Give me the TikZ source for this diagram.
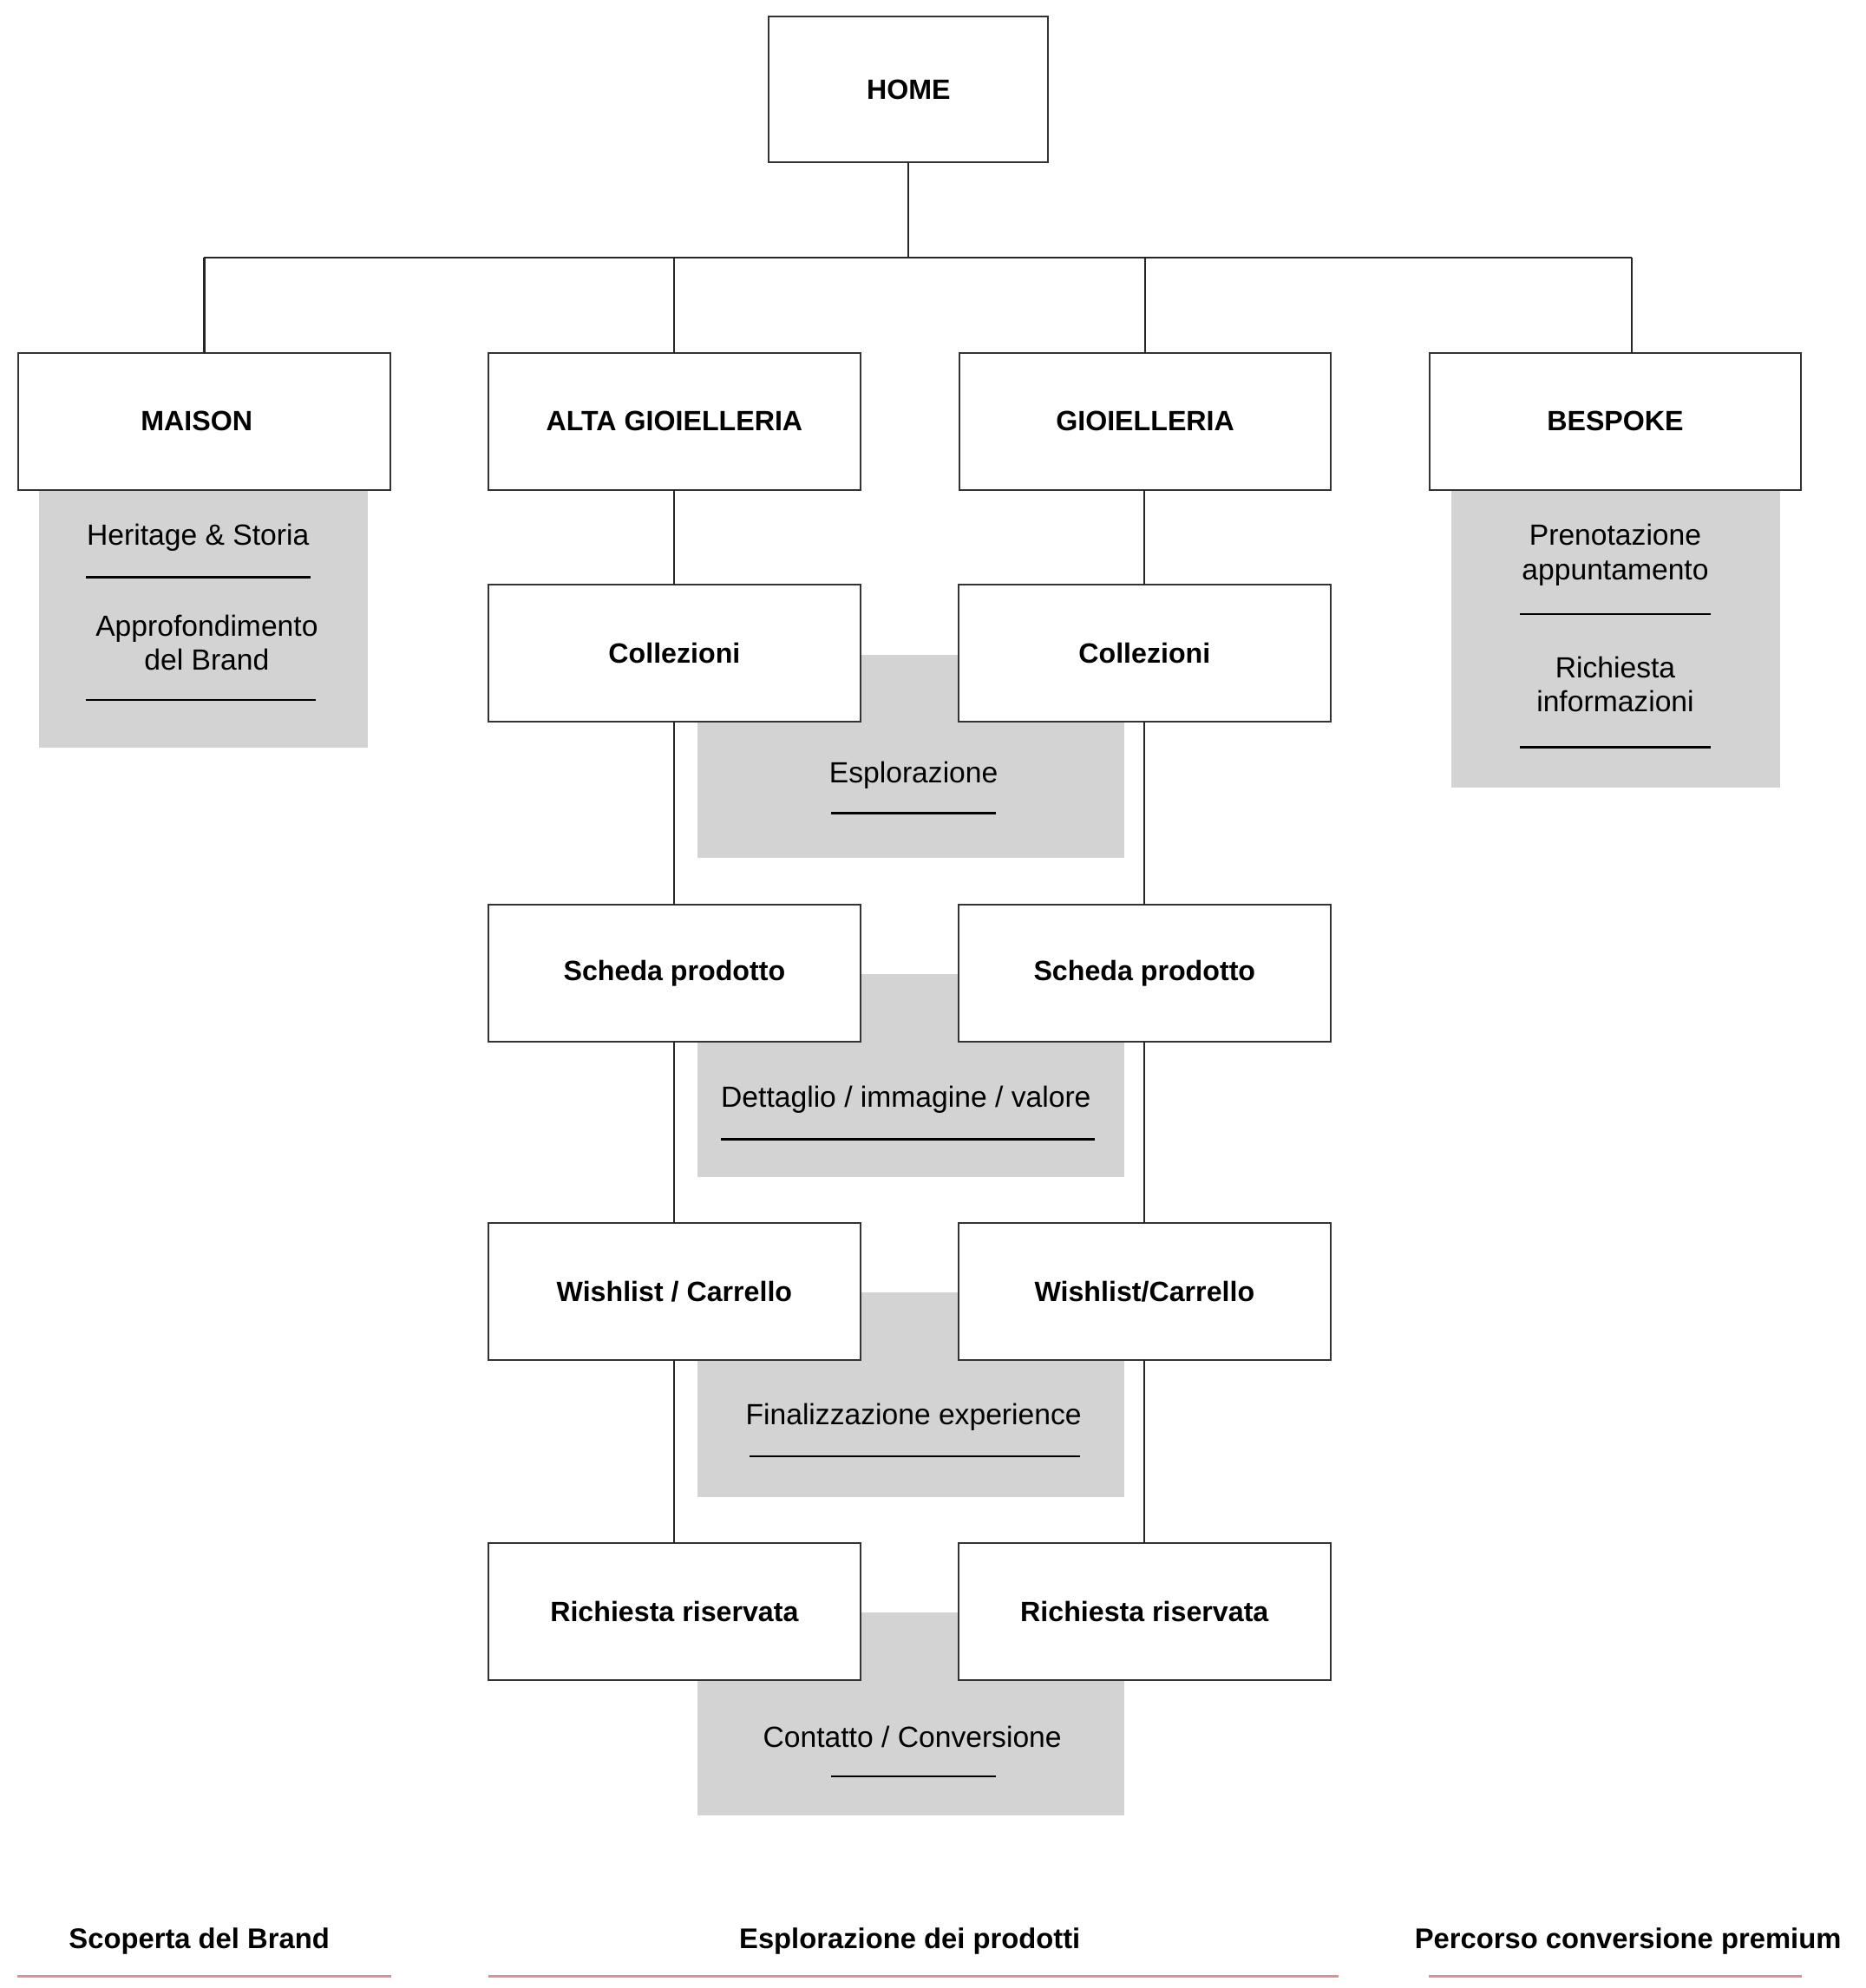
\documentclass[tikz,border=0pt]{standalone}
\usepackage{fontspec}
\setmainfont{Liberation Sans}
\begin{document}
\begin{tikzpicture}[x=0.5pt,y=-0.5pt,
  box/.style={draw=black!80, line width=0.7pt, fill=white, inner sep=0pt, outer sep=0pt,
    minimum width=146.5pt, minimum height=54pt, font=\fontsize{11}{13}\selectfont\bfseries},
  conn/.style={draw=black!85, line width=0.7pt},
  txt/.style={inner sep=0pt, align=center, font=\fontsize{11.5}{13.5}\selectfont},
  foot/.style={inner sep=0pt, font=\fontsize{11.2}{13}\selectfont\bfseries},
  uline/.style={draw=black, line width=0.75pt},
  pinkline/.style={draw=pinkc, line width=1pt}]
\definecolor{panelc}{RGB}{211,211,211}
\definecolor{pinkc}{RGB}{226,140,150}
\useasboundingbox[fill=white] (0,0) rectangle (1470,1567);

% gray panels
\fill[panelc] (31,387) rectangle (290,589);
\fill[panelc] (1144,387) rectangle (1403,621);
\fill[panelc] (550,516) rectangle (886,676);
\fill[panelc] (550,768) rectangle (886,928);
\fill[panelc] (550,1019) rectangle (886,1180);
\fill[panelc] (550,1271) rectangle (886,1431);

% boxes
\node[box, minimum width=110pt, minimum height=57.5pt] (home) at (716,70.5) {HOME};
\node[box] (maison) at (161,332) {\hspace*{-6pt}MAISON};
\node[box] (alta) at (531.5,332) {ALTA GIOIELLERIA};
\node[box] (gio) at (902.5,332) {GIOIELLERIA};
\node[box] (bespoke) at (1273,332) {BESPOKE};

\node[box] (colA) at (531.5,515) {Collezioni};
\node[box] (colB) at (902,515) {Collezioni};
\node[box] (schA) at (531.5,767) {Scheda prodotto};
\node[box] (schB) at (902,767) {Scheda prodotto};
\node[box] (wisA) at (531.5,1018) {Wishlist / Carrello};
\node[box] (wisB) at (902,1018) {Wishlist/Carrello};
\node[box] (ricA) at (531.5,1270) {Richiesta riservata};
\node[box] (ricB) at (902,1270) {Richiesta riservata};

% connectors
\coordinate (busC) at (716,203);
\coordinate (busL) at (161,203);
\coordinate (busR) at (1286,203);
\draw[conn] (home.south) -- (busC);
\draw[conn] (busL) -- (busR);
\draw[conn] (busL) -- (maison.north -| busL);
\draw[conn] (alta.north |- busC) -- (alta.north);
\draw[conn] (gio.north |- busC) -- (gio.north);
\draw[conn] (busR) -- (bespoke.north -| busR);

\draw[conn] (alta.south) -- (colA.north);
\draw[conn] (colA.south) -- (schA.north);
\draw[conn] (schA.south) -- (wisA.north);
\draw[conn] (wisA.south) -- (ricA.north);
\draw[conn] (gio.south -| colB) -- (colB.north);
\draw[conn] (colB.south) -- (schB.north);
\draw[conn] (schB.south) -- (wisB.north);
\draw[conn] (wisB.south) -- (ricB.north);

% panel texts
\node[txt] (t1) at (156,424) {Heritage \& Storia};
\draw[uline] (68,455) -- (245,455);
\node[txt] (t2) at (163,506.5) {Approfondimento\\del Brand};
\draw[uline] (68,552) -- (249,552);

\node[txt] (t3) at (1273,437.5) {Prenotazione\\appuntamento};
\draw[uline] (1198,484) -- (1348,484);
\node[txt] (t4) at (1273,539.5) {Richiesta\\informazioni};
\draw[uline] (1198,589) -- (1348,589);

\node[txt] (t5) at (720,611) {Esplorazione};
\draw[uline] (655,641) -- (785,641);
\node[txt] (t6) at (714,867) {Dettaglio / immagine / valore};
\draw[uline] (568,898) -- (863,898);
\node[txt] (t7) at (720,1117) {Finalizzazione experience};
\draw[uline] (591,1148) -- (851,1148);
\node[txt] (t8) at (719,1369) {Contatto / Conversione};
\draw[uline] (655,1400) -- (785,1400);

% footer
\node[foot] (f1) at (157,1530) {Scoperta del Brand};
\node[foot] (f2) at (717,1530) {Esplorazione dei prodotti};
\node[foot] (f3) at (1283,1530) {Percorso conversione premium};
\draw[pinkline] (14,1558) -- (308,1558);
\draw[pinkline] (385,1558) -- (1055,1558);
\draw[pinkline] (1126,1558) -- (1420,1558);
\end{tikzpicture}
\end{document}
